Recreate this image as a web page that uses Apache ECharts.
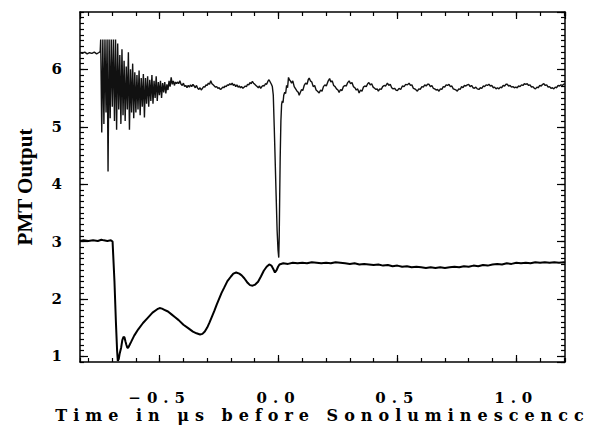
<!DOCTYPE html>
<html>
	<head>
		<title>PMT Output</title>
		<script src="https://cdn.jsdelivr.net/npm/echarts@6/dist/echarts.min.js"></script>
		<style>
			/* the reference lettering is very widely spaced */
			#chart text[style*="DejaVu"] { letter-spacing: 6px; }
		</style>
	</head>
	<body style="margin:0;padding:0;background:#fff">
		<div id="chart" style="width: 591px;height:434px;"></div>
	</body>
	<script type="text/javascript">
// upper trace: flat level, ringing, settled level, dip, tail
var upperFlat = [[-0.835,6.29],[-0.825,6.28],[-0.815,6.30],[-0.805,6.27],[-0.795,6.29],[-0.785,6.28],[-0.775,6.30],[-0.765,6.27],[-0.757,6.29],[-0.750,6.31]];
var upperRinging = [[-0.748,6.52],[-0.7435,4.90],[-0.739,6.52],[-0.7345,5.05],[-0.730,6.52],[-0.7255,5.25],[-0.721,6.52],[-0.717,4.22],[-0.7125,6.52],[-0.708,5.15],[-0.7035,6.52],[-0.699,5.35],[-0.6945,6.52],[-0.690,5.10],[-0.6855,6.52],[-0.681,4.95],[-0.6765,6.45],[-0.672,5.30],[-0.6675,6.25],[-0.663,5.05],[-0.6585,6.35],[-0.654,5.20],[-0.6495,6.15],[-0.645,5.10],[-0.6405,6.05],[-0.636,5.30],[-0.6315,6.30],[-0.627,4.95],[-0.6225,6.00],[-0.618,5.25],[-0.6135,6.10],[-0.609,5.15],[-0.6045,5.95],[-0.600,5.25],[-0.5955,5.90],[-0.591,5.30],[-0.5865,5.98],[-0.582,5.20],[-0.5775,5.85],[-0.573,5.35],[-0.5685,5.92],[-0.564,5.16],[-0.5595,5.85],[-0.555,5.40],[-0.5505,5.88],[-0.546,5.35],[-0.5415,5.82],[-0.537,5.45],[-0.5325,5.90],[-0.528,5.40],[-0.5235,5.80],[-0.519,5.50],[-0.5145,5.88],[-0.510,5.45],[-0.5055,5.78],[-0.501,5.55],[-0.4965,5.80],[-0.492,5.50],[-0.4875,5.76],[-0.483,5.60],[-0.4785,5.78],[-0.474,5.58],[-0.4695,5.74],[-0.465,5.64],[-0.4605,5.80],[-0.456,5.70],[-0.4515,5.86],[-0.447,5.74],[-0.4425,5.80],[-0.438,5.72],[-0.4335,5.78],[-0.429,5.75]];
var upperSettled = [[-0.425,5.78],[-0.420,5.75],[-0.415,5.80],[-0.410,5.74],[-0.405,5.72],[-0.400,5.76],[-0.395,5.70],[-0.390,5.72],[-0.385,5.68],[-0.380,5.72],[-0.375,5.69],[-0.370,5.73],[-0.365,5.70],[-0.360,5.74],[-0.355,5.71],[-0.350,5.68],[-0.345,5.72],[-0.340,5.67],[-0.335,5.65],[-0.330,5.68],[-0.325,5.64],[-0.320,5.67],[-0.315,5.70],[-0.310,5.69],[-0.305,5.73],[-0.300,5.72],[-0.295,5.76],[-0.290,5.74],[-0.285,5.80],[-0.280,5.75],[-0.275,5.73],[-0.270,5.71],[-0.265,5.69],[-0.260,5.70],[-0.255,5.67],[-0.250,5.68],[-0.245,5.65],[-0.240,5.66],[-0.235,5.69],[-0.230,5.68],[-0.225,5.71],[-0.220,5.70],[-0.215,5.73],[-0.210,5.72],[-0.205,5.75],[-0.200,5.73],[-0.195,5.76],[-0.190,5.72],[-0.185,5.74],[-0.180,5.70],[-0.175,5.73],[-0.170,5.69],[-0.165,5.71],[-0.160,5.68],[-0.155,5.70],[-0.150,5.67],[-0.145,5.69],[-0.140,5.71],[-0.135,5.70],[-0.130,5.74],[-0.125,5.73],[-0.120,5.77],[-0.115,5.75],[-0.110,5.79],[-0.105,5.76],[-0.100,5.74],[-0.095,5.72],[-0.090,5.70],[-0.085,5.68],[-0.080,5.71],[-0.075,5.67],[-0.070,5.70],[-0.065,5.72],[-0.060,5.71],[-0.055,5.75],[-0.050,5.74],[-0.045,5.79],[-0.040,5.82],[-0.035,5.78],[-0.030,5.74]];
var upperDip = [[-0.026,5.70],[-0.022,5.55],[-0.018,5.00],[-0.014,4.40],[-0.010,3.80],[-0.006,3.20],[-0.002,2.85],[0.001,2.72],[0.003,3.10],[0.005,3.80],[0.007,4.45],[0.010,5.10],[0.013,5.39],[0.016,5.45],[0.019,5.42],[0.022,5.55],[0.026,5.60],[0.030,5.58],[0.034,5.72],[0.038,5.68],[0.042,5.86],[0.046,5.82]];
var upperTail = [[0.050,5.80],[0.055,5.76],[0.060,5.80],[0.066,5.70],[0.072,5.66],[0.078,5.62],[0.083,5.60],[0.087,5.55],[0.092,5.60],[0.097,5.65],[0.102,5.63],[0.108,5.72],[0.114,5.76],[0.120,5.74],[0.125,5.82],[0.129,5.85],[0.134,5.80],[0.140,5.78],[0.146,5.70],[0.152,5.72],[0.158,5.64],[0.164,5.62],[0.171,5.59],[0.177,5.64],[0.183,5.62],[0.189,5.70],[0.195,5.73],[0.201,5.71],[0.208,5.79],[0.215,5.84],[0.220,5.78],[0.226,5.80],[0.232,5.72],[0.238,5.70],[0.244,5.66],[0.250,5.64],[0.255,5.60],[0.261,5.65],[0.267,5.63],[0.273,5.70],[0.279,5.72],[0.285,5.71],[0.291,5.77],[0.297,5.80],[0.303,5.75],[0.309,5.77],[0.315,5.70],[0.321,5.68],[0.327,5.64],[0.333,5.66],[0.339,5.59],[0.345,5.64],[0.351,5.62],[0.357,5.69],[0.363,5.71],[0.369,5.70],[0.375,5.75],[0.380,5.77],[0.386,5.73],[0.392,5.75],[0.398,5.69],[0.404,5.67],[0.410,5.65],[0.415,5.66],[0.420,5.62],[0.426,5.66],[0.432,5.65],[0.438,5.70],[0.444,5.72],[0.450,5.71],[0.458,5.76],[0.464,5.72],[0.470,5.74],[0.476,5.68],[0.482,5.66],[0.488,5.67],[0.494,5.64],[0.500,5.63],[0.507,5.67],[0.514,5.65],[0.521,5.71],[0.528,5.70],[0.535,5.74],[0.542,5.73],[0.549,5.76],[0.555,5.72],[0.561,5.73],[0.567,5.67],[0.573,5.66],[0.579,5.64],[0.584,5.62],[0.590,5.66],[0.596,5.65],[0.603,5.70],[0.609,5.69],[0.615,5.73],[0.621,5.71],[0.627,5.74],[0.633,5.74],[0.639,5.70],[0.645,5.72],[0.651,5.67],[0.657,5.66],[0.663,5.64],[0.669,5.65],[0.675,5.62],[0.681,5.66],[0.687,5.65],[0.693,5.70],[0.699,5.69],[0.705,5.73],[0.711,5.72],[0.717,5.74],[0.723,5.70],[0.729,5.71],[0.735,5.66],[0.741,5.65],[0.747,5.64],[0.752,5.62],[0.758,5.66],[0.764,5.65],[0.770,5.70],[0.776,5.68],[0.782,5.72],[0.788,5.71],[0.794,5.73],[0.800,5.74],[0.806,5.70],[0.812,5.72],[0.818,5.68],[0.824,5.67],[0.830,5.69],[0.836,5.66],[0.843,5.65],[0.849,5.68],[0.855,5.67],[0.861,5.71],[0.867,5.70],[0.873,5.73],[0.879,5.72],[0.885,5.74],[0.891,5.71],[0.897,5.72],[0.903,5.68],[0.909,5.69],[0.915,5.66],[0.921,5.68],[0.927,5.66],[0.933,5.69],[0.939,5.68],[0.945,5.72],[0.951,5.71],[0.957,5.74],[0.962,5.74],[0.968,5.71],[0.974,5.72],[0.980,5.69],[0.986,5.70],[0.992,5.68],[0.998,5.69],[1.004,5.68],[1.010,5.71],[1.016,5.70],[1.022,5.73],[1.028,5.72],[1.034,5.75],[1.040,5.74],[1.046,5.75],[1.052,5.72],[1.058,5.73],[1.064,5.69],[1.070,5.70],[1.076,5.67],[1.081,5.66],[1.087,5.69],[1.093,5.68],[1.099,5.72],[1.105,5.71],[1.111,5.74],[1.116,5.75],[1.122,5.72],[1.128,5.73],[1.134,5.69],[1.140,5.70],[1.146,5.67],[1.152,5.68],[1.158,5.66],[1.164,5.69],[1.170,5.68],[1.176,5.72],[1.182,5.71],[1.188,5.73],[1.194,5.72],[1.199,5.74],[1.205,5.75]];

// lower trace: flat, sharp drop, slow recovery with wiggles, then level
var lowerFlat = [[-0.835,3.01],[-0.820,3.02],[-0.800,3.01],[-0.780,3.02],[-0.760,3.01],[-0.745,3.03],[-0.735,3.02],[-0.720,3.01],[-0.705,3.02],[-0.698,3.00]];
var lowerRecovery = [[-0.690,2.30],[-0.684,1.60],[-0.679,1.10],[-0.676,0.92],[-0.672,0.95],[-0.668,1.05],[-0.662,1.15],[-0.657,1.28],[-0.652,1.34],[-0.648,1.33],[-0.644,1.26],[-0.640,1.20],[-0.636,1.15],[-0.632,1.15],[-0.626,1.20],[-0.620,1.25],[-0.607,1.36],[-0.590,1.47],[-0.570,1.58],[-0.550,1.67],[-0.530,1.76],[-0.510,1.82],[-0.500,1.84],[-0.490,1.83],[-0.480,1.81],[-0.465,1.78],[-0.450,1.73],[-0.435,1.68],[-0.420,1.63],[-0.400,1.55],[-0.380,1.49],[-0.360,1.43],[-0.345,1.40],[-0.330,1.38],[-0.320,1.39],[-0.310,1.43],[-0.300,1.50],[-0.290,1.59],[-0.280,1.69],[-0.270,1.79],[-0.260,1.90],[-0.250,2.00],[-0.240,2.10],[-0.228,2.20],[-0.215,2.31],[-0.200,2.39],[-0.190,2.44],[-0.178,2.46],[-0.165,2.44],[-0.155,2.41],[-0.144,2.36],[-0.130,2.28],[-0.120,2.24],[-0.109,2.23],[-0.098,2.25],[-0.086,2.30],[-0.074,2.39],[-0.062,2.49],[-0.050,2.56],[-0.039,2.60],[-0.030,2.58],[-0.022,2.52],[-0.015,2.46],[-0.008,2.50],[-0.002,2.56],[0.004,2.60]];
var lowerLevel = [[0.020,2.62],[0.040,2.61],[0.060,2.63],[0.080,2.62],[0.100,2.63],[0.120,2.62],[0.140,2.64],[0.160,2.63],[0.180,2.62],[0.200,2.63],[0.220,2.62],[0.240,2.64],[0.260,2.63],[0.280,2.62],[0.300,2.61],[0.320,2.62],[0.340,2.60],[0.360,2.61],[0.380,2.60],[0.400,2.59],[0.420,2.60],[0.440,2.58],[0.460,2.59],[0.480,2.57],[0.500,2.58],[0.520,2.56],[0.540,2.57],[0.560,2.55],[0.580,2.56],[0.600,2.55],[0.620,2.54],[0.640,2.55],[0.660,2.54],[0.680,2.55],[0.700,2.54],[0.720,2.55],[0.740,2.56],[0.760,2.55],[0.780,2.57],[0.800,2.56],[0.820,2.58],[0.840,2.57],[0.860,2.59],[0.880,2.58],[0.900,2.60],[0.920,2.61],[0.940,2.60],[0.960,2.62],[0.980,2.61],[1.000,2.63],[1.020,2.62],[1.040,2.63],[1.060,2.62],[1.080,2.64],[1.100,2.63],[1.120,2.64],[1.140,2.63],[1.160,2.64],[1.180,2.63],[1.200,2.64],[1.205,2.63]];

var xMin = -0.835, xMax = 1.205;
var yMin = 0.9, yMax = 7.0;

var upperTrace = upperFlat.concat(upperRinging, upperSettled, upperDip, upperTail);
var lowerTrace = lowerFlat.concat(lowerRecovery, lowerLevel);

var chart = echarts.init(document.getElementById('chart'), null, { renderer: 'svg' });

var axisColor = '#000';
var tickFont = { fontFamily: 'DejaVu Serif', fontWeight: 'bold', fontSize: 15, color: '#000' };

function fmt(v) {
    var s = Math.abs(v).toFixed(1);
    return v < -1e-9 ? '\u2212' + s : s;
}

// one axis per side for the big ticks, one more for the small ticks
function xAx(pos, step, len, labels, line) {
    return {
        type: 'value', position: pos, min: xMin, max: xMax,
        minInterval: step, maxInterval: step,
        nameMoveOverlap: false,
        axisLine: { show: line, onZero: false, lineStyle: { color: axisColor, width: 1.5 } },
        axisTick: { show: true, inside: true, length: len, lineStyle: { color: axisColor, width: 1.2 } },
        axisLabel: labels ? Object.assign({ show: true, margin: 20, interval: 0, showMinLabel: false, showMaxLabel: false, formatter: fmt }, tickFont) : { show: false },
        splitLine: { show: false }
    };
}
function yAx(pos, step, len, labels, line) {
    return {
        type: 'value', position: pos, min: yMin, max: yMax,
        minInterval: step, maxInterval: step,
        nameMoveOverlap: false,
        axisLine: { show: line, onZero: false, lineStyle: { color: axisColor, width: 1.5 } },
        axisTick: { show: true, inside: true, length: len, lineStyle: { color: axisColor, width: 1.2 } },
        axisLabel: labels ? Object.assign({ show: true, margin: 12, interval: 0, showMinLabel: false, showMaxLabel: false, formatter: function (v) { return String(Math.round(v)); } }, tickFont) : { show: false },
        splitLine: { show: false }
    };
}

var xMain = xAx('bottom', 0.5, 7, true, true);
xMain.name = 'Time in \u03bcs before Sonoluminescencc';
xMain.nameLocation = 'middle';
xMain.nameGap = 37;
xMain.nameTextStyle = { fontFamily: 'DejaVu Serif', fontWeight: 'bold', fontSize: 16, color: '#000' };

var yMain = yAx('left', 1, 8, true, true);
yMain.name = 'PMT Output';
yMain.nameLocation = 'middle';
yMain.nameGap = 38;
yMain.nameTextStyle = { fontFamily: 'Liberation Serif', fontWeight: 'bold', fontSize: 21, color: '#000' };

var option = {
    backgroundColor: '#fff',
    animation: false,
    grid: { left: 80, right: 26, top: 12, bottom: 72, containLabel: false, outerBoundsMode: 'none' },
    xAxis: [xMain, xAx('bottom', 0.1, 4, false, false), xAx('top', 0.5, 7, false, true), xAx('top', 0.1, 4, false, false)],
    yAxis: [yMain, yAx('left', 0.1, 4, false, false), yAx('right', 1, 8, false, true), yAx('right', 0.1, 4, false, false)],
    series: [{
        name: 'upper',
        type: 'line',
        xAxisIndex: 0, yAxisIndex: 0,
        data: upperTrace,
        showSymbol: false,
        clip: true,
        lineStyle: { color: '#111', width: 1.4 }
    }, {
        name: 'lower',
        type: 'line',
        xAxisIndex: 0, yAxisIndex: 0,
        data: lowerTrace,
        showSymbol: false,
        clip: true,
        lineStyle: { color: '#000', width: 2 }
    }]
};
chart.setOption(option);
	</script>
</html>
